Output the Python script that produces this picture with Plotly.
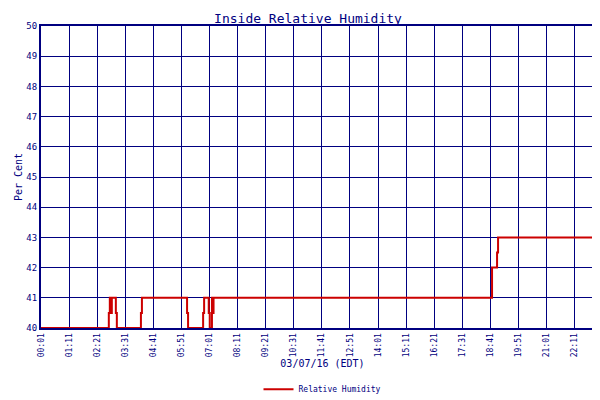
import plotly.graph_objects as go

# minutes since midnight, relative humidity (%)
minutes = [1, 170, 172.5, 175, 177.5, 187.5, 190, 250, 252.5, 365, 367.5, 405, 407.5,
           419, 421.5, 427, 429, 431, 1125, 1137.5, 1140, 1404]
humidity = [40, 40.5, 41, 40.5, 41, 40.5, 40, 40.5, 41, 40.5, 40, 40.5, 41,
            40.5, 40, 41, 40.5, 41, 42, 42.5, 43, 43]

tick_vals = [1 + 70 * i for i in range(21)] + [1404]
tick_text = ["%02d:%02d" % (v // 60, v % 60) for v in tick_vals[:-1]] + ["23:24"]

navy = "#000080"
font = dict(family="DejaVu Sans Mono", size=9, color=navy)

fig = go.Figure()
fig.add_trace(go.Scatter(x=minutes, y=humidity, mode="lines", line_shape="hv",
                         line=dict(color="#cc0000", width=2), name="Relative Humidity"))

fig.update_layout(
    width=600, height=400, margin=dict(l=33, r=4, t=18, b=63),
    paper_bgcolor="white", plot_bgcolor="white", font=font,
    title=dict(text="Inside Relative Humidity", x=0.5, y=0.985,
               font=dict(family="DejaVu Sans Mono", size=13, color=navy)),
    showlegend=True,
    legend=dict(orientation="h", x=0.5, xanchor="center", y=-0.155, yanchor="top",
                font=dict(size=8, color=navy)),
)
fig.update_xaxes(range=[1, 1404], tickvals=tick_vals, ticktext=tick_text, tickangle=-90,
                 showgrid=True, gridcolor=navy, gridwidth=1, zeroline=False, automargin=False,
                 showline=True, linecolor=navy, linewidth=2, mirror=True,
                 title=dict(text="03/07/16 (EDT)", font=dict(size=10, color=navy), standoff=4),
                 tickfont=dict(size=8, color=navy))
fig.update_yaxes(range=[40, 50], dtick=1, showgrid=True, gridcolor=navy, gridwidth=1,
                 zeroline=False, automargin=False, showline=True, linecolor=navy, linewidth=2,
                 mirror=True,
                 title=dict(text="Per Cent", font=dict(size=10, color=navy), standoff=2),
                 tickfont=dict(size=9, color=navy))

fig.write_html("out.html")
